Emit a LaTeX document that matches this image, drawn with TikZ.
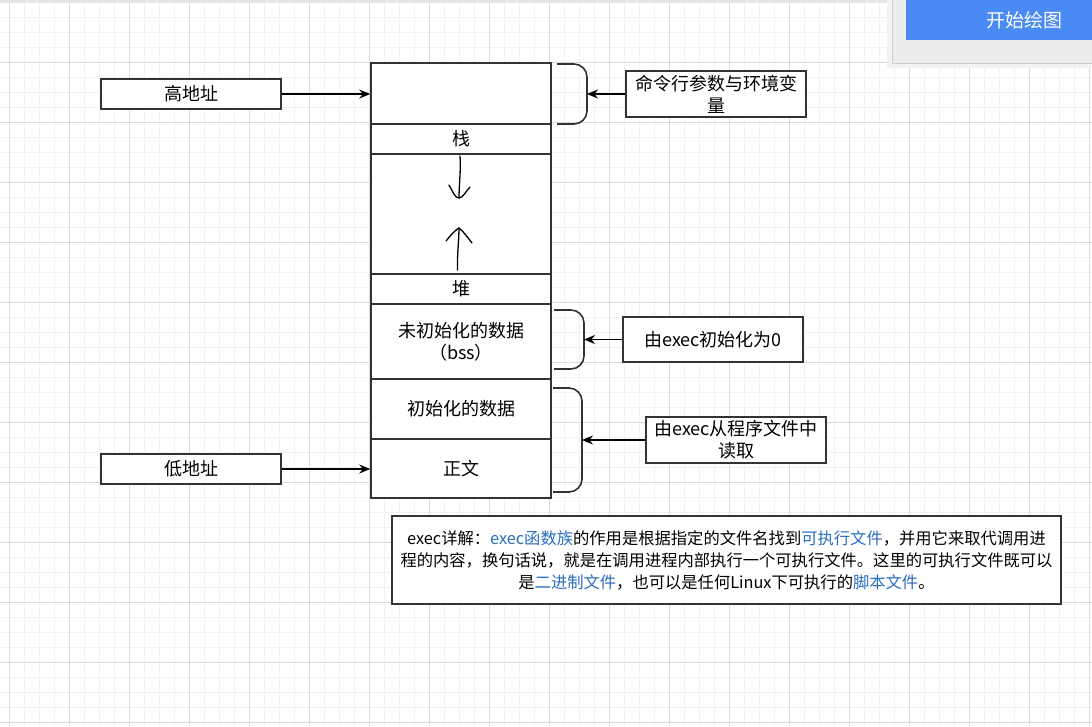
\documentclass[tikz,border=0pt]{standalone}
\usepackage{fontspec}
\setmainfont{Noto Sans CJK SC}
\usetikzlibrary{arrows.meta}
\definecolor{gridMinor}{HTML}{F2F2F2}
\definecolor{gridMajor}{HTML}{DADADA}
\definecolor{edgeGray}{HTML}{333333}
\definecolor{linkBlue}{HTML}{2B6DC0}
\definecolor{panelGray}{HTML}{EDEDED}
\definecolor{btnBlue}{HTML}{4A8AF4}

\begin{document}
\begin{tikzpicture}[x=1pt,y=-1pt,
  >={Stealth[length=11pt,width=9pt]},
  seg/.style={draw=edgeGray,fill=white,line width=1.6pt,minimum width=180pt,
    inner sep=0pt,align=center,font=\fontsize{18}{22}\selectfont},
  lbl/.style={draw=edgeGray,fill=white,line width=1.6pt,minimum width=180pt,
    inner sep=0pt,align=center,font=\fontsize{18}{22}\selectfont},
  brace/.style={draw=edgeGray,line width=1.6pt,rounded corners=13pt},
  arr/.style={->,line width=1.3pt,black},
  hand/.style={line width=1.3pt,black,line cap=round,line join=round}
]
  \useasboundingbox (0,0) rectangle (1092,726);
  \fill[white] (0,0) rectangle (1092,726);
  \foreach \gx in {-6,9,...,1092} \draw[gridMinor,line width=1pt] (\gx,0) -- (\gx,726);
  \foreach \gy in {2,17,...,726} \draw[gridMinor,line width=1pt] (0,\gy) -- (1092,\gy);
  \foreach \gx in {9,69,...,1092} \draw[gridMajor,line width=1pt] (\gx,0) -- (\gx,726);
  \foreach \gy in {2,62,...,726} \draw[gridMajor,line width=1pt] (0,\gy) -- (1092,\gy);
  \fill[black!10] (0,0) rectangle (1092,3);

  \fill[black!5] (887,0) rectangle (1092,68);
  \filldraw[fill=panelGray,draw=black!20,line width=1pt] (892,-2) rectangle (1094,63);
  \fill[btnBlue] (906,-2) rectangle (1094,40);
  \node[text=white,font=\fontsize{19}{19}\selectfont] (startbtn) at (1024,20) {开始绘图};

  \node[seg,minimum height=61pt] (argv) at (461,93.5) {};
  \node[seg,minimum height=30pt] (stack) at (461,139) {栈};
  \node[seg,minimum height=120pt] (gap) at (461,214) {};
  \node[seg,minimum height=30pt] (heap) at (461,289) {堆};
  \node[seg,minimum height=75pt] (bss) at (461,341.5) {未初始化的数据\\（bss）};
  \node[seg,minimum height=60pt] (data) at (461,409) {初始化的数据};
  \node[seg,minimum height=59pt] (text) at (461,468.5) {正文};

  \coordinate (downs) at (460,156);
  \coordinate (downe) at (459,198);
  \coordinate (ups) at (457.5,270);
  \coordinate (upe) at (459,228);
  \draw[hand] (downs) .. controls (461,170) and (459,185) .. (downe);
  \draw[hand] (449,185) .. controls (453,192) and (455,198) .. (downe)
    .. controls (463,198) and (466,191) .. (470,187);
  \draw[hand] (ups) .. controls (457,255) and (459,240) .. (upe);
  \draw[hand] (446,241) .. controls (450,236) and (455,230) .. (upe)
    .. controls (464,232) and (468,238) .. (472,243);

  \node[lbl,minimum height=30pt] (high) at (191,94) {高地址};
  \node[lbl,minimum height=30pt] (low) at (191,469) {低地址};
  \draw[arr] (high.east) -- (high.east -| argv.west);
  \draw[arr] (low.east) -- (low.east -| text.west);

  \draw[brace] (557,64) -- (587,64) -- (587,124) -- (557,124);
  \draw[brace] (554,310) -- (584,310) -- (584,369) -- (554,369);
  \draw[brace] (553,388) -- (582,388) -- (582,492) -- (553,492);
  \coordinate (argvbr) at (587,94);
  \coordinate (bssbr) at (584,339.5);
  \coordinate (databr) at (582,440);

  \node[lbl,minimum height=46pt] (cmdenv) at (716,94) {命令行参数与环境变\\量};
  \node[lbl,minimum height=45pt] (zeroinit) at (713,339.5) {由exec初始化为0};
  \node[lbl,minimum height=46pt] (fileread) at (736,440) {由exec从程序文件中\\读取};
  \draw[arr] (cmdenv) -- (argvbr);
  \draw[arr] (zeroinit) -- (bssbr);
  \draw[arr] (fileread) -- (databr);

  \node[lbl,minimum width=669pt,minimum height=88pt,font=\fontsize{16.3}{22}\selectfont] (execnote) at (726.5,560)
    {exec详解：{\color{linkBlue}exec函数族}的作用是根据指定的文件名找到{\color{linkBlue}可执行文件}，并用它来取代调用进\\
     程的内容，换句话说，就是在调用进程内部执行一个可执行文件。这里的可执行文件既可以\\
     是{\color{linkBlue}二进制文件}，也可以是任何Linux下可执行的{\color{linkBlue}脚本文件}。};
\end{tikzpicture}
\end{document}
